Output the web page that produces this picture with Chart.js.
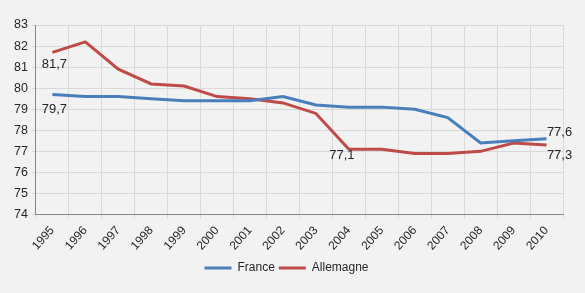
<!DOCTYPE html>
<html>
<head>
<meta charset="utf-8">
<script src="https://cdn.jsdelivr.net/npm/chart.js@4"></script>
<style>
  html, body { margin: 0; padding: 0; background: #f2f2f2; }
  #wrap { width: 585px; height: 293px; }
</style>
</head>
<body>
<div id="wrap"><canvas id="lineChart"></canvas></div>
<script>
  var years = ["1995", "1996", "1997", "1998", "1999", "2000", "2001", "2002", "2003", "2004", "2005", "2006", "2007", "2008", "2009", "2010"];
  var france = [79.7, 79.6, 79.6, 79.5, 79.4, 79.4, 79.4, 79.6, 79.2, 79.1, 79.1, 79.0, 78.6, 77.4, 77.5, 77.6];
  var allemagne = [81.7, 82.2, 80.9, 80.2, 80.1, 79.6, 79.5, 79.3, 78.8, 77.1, 77.1, 76.9, 76.9, 77.0, 77.4, 77.3];

  // which points get a value label, and where the text sits relative to the point
  var labelsFrance = [{ i: 0, dx: 2, dy: 15 }, { i: 15, dx: 13, dy: -6 }];
  var labelsAllemagne = [{ i: 0, dx: 2, dy: 12 }, { i: 9, dx: -7, dy: 6 }, { i: 15, dx: 13, dy: 10 }];

  var valueLabels = {
    id: 'valueLabels',
    afterDatasetsDraw: function (chart) {
      var ctx = chart.ctx;
      ctx.save();
      ctx.font = '13px "Liberation Sans", Arial, sans-serif';
      ctx.fillStyle = '#262626';
      ctx.textAlign = 'center';
      ctx.textBaseline = 'middle';
      [labelsFrance, labelsAllemagne].forEach(function (list, d) {
        var meta = chart.getDatasetMeta(d);
        var values = chart.data.datasets[d].data;
        list.forEach(function (l) {
          var pt = meta.data[l.i];
          ctx.fillText(values[l.i].toFixed(1).replace('.', ','), pt.x + l.dx, pt.y + l.dy);
        });
      });
      ctx.restore();
    }
  };

  var ctxL = document.getElementById("lineChart").getContext('2d');
  var myLineChart = new Chart(ctxL, {
    type: 'line',
    data: {
      labels: years,
      datasets: [{
        label: "France",
        data: france,
        borderColor: "#4a7ebb",
        backgroundColor: "#4a7ebb",
        borderWidth: 3,
        pointRadius: 0,
        tension: 0
      }, {
        label: "Allemagne",
        data: allemagne,
        borderColor: "#be4b48",
        backgroundColor: "#be4b48",
        borderWidth: 3,
        pointRadius: 0,
        tension: 0
      }]
    },
    plugins: [valueLabels],
    options: {
      responsive: true,
      maintainAspectRatio: false,
      animation: false,
      layout: { padding: { top: 25, right: 22, left: 10, bottom: 9 } },
      plugins: {
        tooltip: { enabled: false },
        legend: {
          position: 'bottom',
          labels: {
            usePointStyle: true,
            pointStyle: 'line',
            pointStyleWidth: 27,
            color: '#262626',
            font: { family: '"Liberation Sans", Arial, sans-serif', size: 12 },
            padding: 4
          }
        }
      },
      scales: {
        x: {
          offset: true,
          grid: { offset: true, color: '#d9d9d9', tickLength: 4, drawTicks: true },
          border: { color: '#868686' },
          ticks: {
            minRotation: 48,
            maxRotation: 48,
            padding: 5,
            color: '#262626',
            font: { family: '"Liberation Sans", Arial, sans-serif', size: 12 }
          }
        },
        y: {
          min: 74,
          max: 83,
          grid: { color: '#d9d9d9', tickLength: 4 },
          border: { color: '#868686' },
          ticks: {
            stepSize: 1,
            padding: 4,
            color: '#262626',
            font: { family: '"Liberation Sans", Arial, sans-serif', size: 12.5 }
          }
        }
      }
    }
  });
</script>
</body>
</html>
